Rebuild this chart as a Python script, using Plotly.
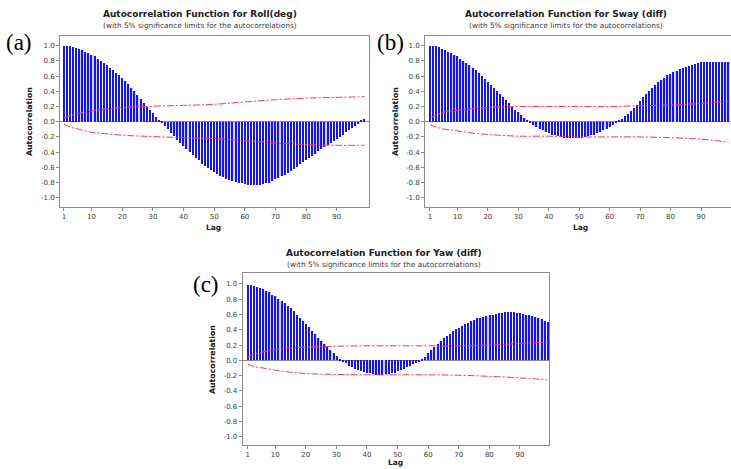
import plotly.graph_objects as go

W, H = 731, 469

lags = list(range(1, 100))

acf_roll = [1.00, 1.00, 0.99, 0.98, 0.97, 0.96, 0.94, 0.92, 0.90, 0.88,
            0.86, 0.83, 0.80, 0.77, 0.74, 0.71, 0.68, 0.64, 0.61, 0.57,
            0.53, 0.49, 0.45, 0.40, 0.35, 0.30, 0.25, 0.20, 0.15, 0.11,
            0.06, 0.02, -0.01, -0.06, -0.10, -0.15, -0.19, -0.24, -0.28, -0.32,
            -0.36, -0.40, -0.44, -0.48, -0.51, -0.55, -0.58, -0.61, -0.64, -0.66,
            -0.69, -0.71, -0.73, -0.75, -0.77, -0.78, -0.79, -0.80, -0.81, -0.82,
            -0.83, -0.83, -0.83, -0.83, -0.83, -0.82, -0.81, -0.80, -0.78, -0.76,
            -0.74, -0.72, -0.70, -0.67, -0.65, -0.62, -0.59, -0.56, -0.53, -0.50,
            -0.48, -0.45, -0.42, -0.39, -0.36, -0.33, -0.30, -0.28, -0.25, -0.23,
            -0.20, -0.17, -0.14, -0.11, -0.08, -0.05, -0.03, 0.01, 0.04]

acf_sway = [1.00, 1.00, 0.99, 0.98, 0.96, 0.94, 0.92, 0.90, 0.88, 0.86,
            0.83, 0.80, 0.77, 0.74, 0.71, 0.68, 0.64, 0.60, 0.56, 0.52,
            0.48, 0.44, 0.40, 0.36, 0.32, 0.28, 0.24, 0.20, 0.16, 0.13,
            0.09, 0.05, 0.02, -0.01, -0.04, -0.07, -0.09, -0.11, -0.13, -0.15,
            -0.17, -0.18, -0.19, -0.20, -0.21, -0.22, -0.22, -0.22, -0.22, -0.21,
            -0.21, -0.20, -0.19, -0.18, -0.17, -0.15, -0.13, -0.11, -0.09, -0.07,
            -0.04, -0.02, 0.01, 0.04, 0.07, 0.10, 0.14, 0.18, 0.22, 0.27,
            0.32, 0.36, 0.40, 0.44, 0.48, 0.52, 0.55, 0.58, 0.61, 0.63,
            0.65, 0.67, 0.69, 0.71, 0.72, 0.73, 0.75, 0.76, 0.77, 0.78,
            0.78, 0.79, 0.79, 0.79, 0.79, 0.79, 0.79, 0.78, 0.78]

acf_yaw = [0.99, 0.99, 0.98, 0.96, 0.95, 0.93, 0.91, 0.89, 0.86, 0.84,
           0.81, 0.78, 0.75, 0.71, 0.68, 0.64, 0.60, 0.56, 0.52, 0.48,
           0.44, 0.39, 0.34, 0.29, 0.25, 0.21, 0.17, 0.13, 0.09, 0.06,
           0.02, -0.01, -0.04, -0.07, -0.09, -0.11, -0.13, -0.14, -0.15, -0.16,
           -0.17, -0.18, -0.19, -0.19, -0.19, -0.18, -0.18, -0.17, -0.16, -0.14,
           -0.13, -0.11, -0.09, -0.07, -0.05, -0.03, -0.01, 0.02, 0.05, 0.09,
           0.13, 0.17, 0.21, 0.25, 0.29, 0.32, 0.35, 0.38, 0.41, 0.43,
           0.45, 0.47, 0.49, 0.51, 0.53, 0.55, 0.56, 0.57, 0.58, 0.59,
           0.60, 0.61, 0.62, 0.62, 0.63, 0.63, 0.63, 0.63, 0.62, 0.62,
           0.61, 0.60, 0.59, 0.58, 0.57, 0.55, 0.54, 0.52, 0.50]

# significance limits read at selected lags
lim_lags = [1, 3, 6, 10, 15, 21, 30, 40, 50, 60, 70, 80, 90, 99]
roll_upper = [0.05, 0.08, 0.11, 0.14, 0.17, 0.19, 0.205, 0.215, 0.23, 0.26, 0.29, 0.31, 0.32, 0.33]
roll_lower = [-0.03, -0.07, -0.10, -0.14, -0.16, -0.18, -0.195, -0.21, -0.22, -0.25, -0.28, -0.30, -0.31, -0.31]
sway_upper = [0.05, 0.09, 0.13, 0.15, 0.17, 0.19, 0.20, 0.20, 0.20, 0.20, 0.21, 0.22, 0.24, 0.27]
sway_lower = [-0.04, -0.07, -0.10, -0.12, -0.15, -0.17, -0.19, -0.19, -0.20, -0.20, -0.20, -0.21, -0.23, -0.27]
yaw_upper = [0.045, 0.08, 0.11, 0.14, 0.16, 0.175, 0.185, 0.19, 0.19, 0.19, 0.19, 0.20, 0.22, 0.24]
yaw_lower = [-0.045, -0.08, -0.10, -0.13, -0.155, -0.175, -0.185, -0.19, -0.19, -0.19, -0.195, -0.21, -0.23, -0.255]

x_tickvals = [1, 10, 20, 30, 40, 50, 60, 70, 80, 90]
y_tickvals = [-1.0, -0.8, -0.6, -0.4, -0.2, 0.0, 0.2, 0.4, 0.6, 0.8, 1.0]
y_ticktext = ["-1.0", "-0.8", "-0.6", "-0.4", "-0.2", "0.0", "0.2", "0.4", "0.6", "0.8", "1.0"]

titles = ["Autocorrelation Function for Roll(deg)",
          "Autocorrelation Function for Sway (diff)",
          "Autocorrelation Function for Yaw (diff)"]
subtitle = "(with 5% significance limits for the autocorrelations)"
panel_labels = ["(a)", "(b)", "(c)"]

BAR = "#1414f5"
BAR_FILL = "#d4d4ff"
RED = "#ff3355"
FRAME = "#8c8c8c"
TXT = "#3a3a3a"

fig = go.Figure()

panels = [
    dict(acf=acf_roll, up=roll_upper, lo=roll_lower, xd=[60, 369], yd=[36, 207], xr=[-0.3, 100.5], yr=[-1.122, 1.128], mirror_y=True),
    dict(acf=acf_sway, up=sway_upper, lo=sway_lower, xd=[425, 731], yd=[36, 207], xr=[-0.64, 99.85], yr=[-1.122, 1.128], mirror_y=False),
    dict(acf=acf_yaw, up=yaw_upper, lo=yaw_lower, xd=[242.7, 549], yd=[273, 445], xr=[-0.63, 99.5], yr=[-1.109, 1.144], mirror_y=True),
]

for i, p in enumerate(panels):
    n = "" if i == 0 else str(i + 1)
    xa, ya = "x" + n, "y" + n
    fig.add_trace(go.Bar(x=lags, y=p["acf"], width=0.8, marker=dict(color=BAR_FILL, line=dict(width=0)),
                         xaxis=xa, yaxis=ya, showlegend=False))
    fig.add_trace(go.Bar(x=lags, y=p["acf"], width=0.4, marker=dict(color=BAR, line=dict(width=0)),
                         xaxis=xa, yaxis=ya, showlegend=False))
    for lim in (p["up"], p["lo"]):
        fig.add_trace(go.Scatter(x=lim_lags, y=lim, mode="lines", line=dict(color=RED, width=1, dash="7px,2px,2px,2px", shape="spline"),
                                 xaxis=xa, yaxis=ya, showlegend=False))
    fig.layout["xaxis" + n] = dict(
        domain=[p["xd"][0] / W, min(1.0, p["xd"][1] / W)], range=p["xr"], anchor=ya,
        tickvals=x_tickvals, ticks="outside", ticklen=3, tickcolor=FRAME,
        tickfont=dict(family="DejaVu Sans", size=7, color=TXT),
        showline=True, linecolor=FRAME, linewidth=1, mirror=True, showgrid=False, zeroline=False,
    )
    fig.layout["yaxis" + n] = dict(
        domain=[1 - p["yd"][1] / H, 1 - p["yd"][0] / H], range=p["yr"], anchor=xa,
        tickvals=y_tickvals, ticktext=y_ticktext, ticks="outside", ticklen=3, tickcolor=FRAME,
        tickfont=dict(family="DejaVu Sans", size=7, color=TXT),
        showline=True, linecolor=FRAME, linewidth=1, mirror=p["mirror_y"], showgrid=False,
        zeroline=True, zerolinecolor="#8a8a8a", zerolinewidth=1,
    )

def ann(text, x, y, size, bold=False, family="DejaVu Sans", angle=0, color=TXT):
    fig.add_annotation(text=("<b>%s</b>" % text) if bold else text, x=x / W, y=1 - y / H,
                       xref="paper", yref="paper", xanchor="center", yanchor="middle",
                       showarrow=False, textangle=angle, font=dict(family=family, size=size, color=color))

title_pos = [(200, 14, 25), (566, 14, 25), (384, 253, 264)]
for t, (cx, ty, sy) in zip(titles, title_pos):
    ann(t, cx, ty, 9, bold=True, color="#202020")
    ann(subtitle, cx, sy, 7.4, color="#404040")

for lab, (lx, ly) in zip(panel_labels, [(19, 43), (390, 43), (206, 284)]):
    ann(lab, lx, ly, 23, family="Liberation Serif", color="#000000")

for (yx, yy) in [(29, 122), (395, 122), (212, 360)]:
    ann("Autocorrelation", yx, yy, 7.8, bold=True, angle=-90, color="#202020")
for (lx, ly) in [(213, 227), (580, 227), (395, 462)]:
    ann("Lag", lx, ly, 7.5, bold=True, color="#202020")

fig.update_layout(width=W, height=H, margin=dict(l=0, r=0, t=0, b=0),
                  paper_bgcolor="white", plot_bgcolor="white", bargap=0, barmode="overlay")

fig.write_html("out.html")
